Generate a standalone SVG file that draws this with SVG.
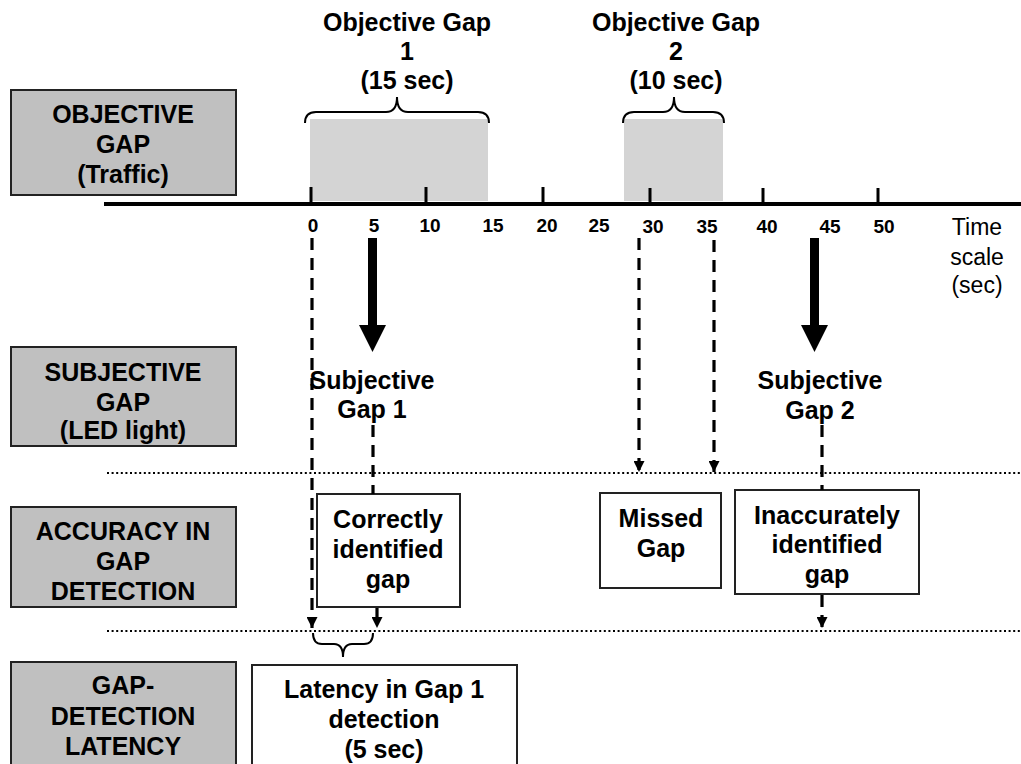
<svg xmlns="http://www.w3.org/2000/svg" width="1021" height="764" viewBox="0 0 1021 764">
<style>
  text { font-family: "Liberation Sans", Arial, sans-serif; fill: #000; text-anchor: middle; }
  .b { font-weight: bold; font-size: 25px; }
  .t { font-weight: bold; font-size: 19px; }
  .r { font-size: 23px; }
  .cat { fill: #c0c0c0; stroke: #222; stroke-width: 2; }
  .box { fill: #fff; stroke: #222; stroke-width: 2; }
  .gap { fill: #d4d4d4; }
  .dash { stroke: #000; stroke-width: 3.2; stroke-dasharray: 12 8; fill: none; }
  .dot { stroke: #000; stroke-width: 2.2; stroke-dasharray: 2 2.6; fill: none; }
  .brace { stroke: #000; stroke-width: 2; fill: none; }
  .tick { stroke: #000; stroke-width: 3; }
</style>
<defs>
  <marker id="ah" markerWidth="11" markerHeight="11" refX="11" refY="5.5" orient="auto" markerUnits="userSpaceOnUse" viewBox="0 0 11 11">
    <path d="M0,0 L11,5.5 L0,11 Z" fill="#000"/>
  </marker>
</defs>
<rect width="1021" height="764" fill="#fff"/>

<g id="timeline">
  <rect class="gap" x="310" y="119" width="178" height="82"/>
  <rect class="gap" x="624" y="119" width="99" height="82"/>
  <path class="brace" d="M305,123 Q305,112 316,112 L386,112 Q397,112 397,97 Q397,112 408,112 L478,112 Q489,112 489,123"/>
  <path class="brace" d="M623,123 Q623,112 634,112 L663,112 Q674,112 674,97 Q674,112 685,112 L713,112 Q724,112 724,123"/>
  <line x1="104" y1="204" x2="1021" y2="204" stroke="#000" stroke-width="4"/>
  <line class="tick" x1="311" y1="187" x2="311" y2="204"/>
  <line class="tick" x1="426" y1="187" x2="426" y2="204"/>
  <line class="tick" x1="543" y1="187" x2="543" y2="204"/>
  <line class="tick" x1="650" y1="188" x2="650" y2="204"/>
  <line class="tick" x1="763" y1="188" x2="763" y2="204"/>
  <line class="tick" x1="878" y1="188" x2="878" y2="204"/>
  <text class="t" x="313" y="232">0</text>
  <text class="t" x="374" y="232">5</text>
  <text class="t" x="430" y="232">10</text>
  <text class="t" x="493" y="232">15</text>
  <text class="t" x="547" y="232">20</text>
  <text class="t" x="599" y="232">25</text>
  <text class="t" x="653" y="233">30</text>
  <text class="t" x="707" y="233">35</text>
  <text class="t" x="767" y="233">40</text>
  <text class="t" x="830" y="233">45</text>
  <text class="t" x="884" y="233">50</text>
  <text class="r" x="977" y="235">Time</text>
  <text class="r" x="977" y="265">scale</text>
  <text class="r" x="977" y="293">(sec)</text>
</g>

<g id="title1">
  <text class="b" x="407" y="31">Objective Gap</text>
  <text class="b" x="407" y="60">1</text>
  <text class="b" x="407" y="89">(15 sec)</text>
</g>
<g id="title2">
  <text class="b" x="676" y="31">Objective Gap</text>
  <text class="b" x="676" y="60">2</text>
  <text class="b" x="676" y="89">(10 sec)</text>
</g>

<g id="cat-objective">
  <rect class="cat" x="11" y="90" width="225" height="105"/>
  <text class="b" x="123" y="123">OBJECTIVE</text>
  <text class="b" x="123" y="153">GAP</text>
  <text class="b" x="123" y="183">(Traffic)</text>
</g>
<g id="cat-subjective">
  <rect class="cat" x="11" y="347" width="225" height="99"/>
  <text class="b" x="123" y="381">SUBJECTIVE</text>
  <text class="b" x="123" y="411">GAP</text>
  <text class="b" x="123" y="439">(LED light)</text>
</g>
<g id="cat-accuracy">
  <rect class="cat" x="11" y="507" width="225" height="100"/>
  <text class="b" x="123" y="540">ACCURACY IN</text>
  <text class="b" x="123" y="570">GAP</text>
  <text class="b" x="123" y="600">DETECTION</text>
</g>
<g id="cat-latency">
  <rect class="cat" x="11" y="662" width="225" height="110"/>
  <text class="b" x="123" y="694">GAP-</text>
  <text class="b" x="123" y="725">DETECTION</text>
  <text class="b" x="123" y="755">LATENCY</text>
</g>

<g id="subjective1">
  <text class="b" x="372" y="389">Subjective</text>
  <text class="b" x="372" y="418">Gap 1</text>
</g>
<g id="subjective2">
  <text class="b" x="820" y="389">Subjective</text>
  <text class="b" x="820" y="419">Gap 2</text>
</g>

<g id="correct">
  <rect class="box" x="317" y="494" width="143" height="113"/>
  <text class="b" x="388" y="528">Correctly</text>
  <text class="b" x="388" y="558">identified</text>
  <text class="b" x="388" y="588">gap</text>
</g>
<g id="missed">
  <rect class="box" x="600" y="493" width="121" height="95"/>
  <text class="b" x="661" y="527">Missed</text>
  <text class="b" x="661" y="557">Gap</text>
</g>
<g id="inaccurate">
  <rect class="box" x="735" y="490" width="184" height="104"/>
  <text class="b" x="827" y="524">Inaccurately</text>
  <text class="b" x="827" y="553">identified</text>
  <text class="b" x="827" y="583">gap</text>
</g>
<g id="latency">
  <rect class="box" x="252" y="665" width="265" height="110"/>
  <text class="b" x="384" y="698">Latency in Gap 1</text>
  <text class="b" x="384" y="728">detection</text>
  <text class="b" x="384" y="758">(5 sec)</text>
</g>

<g id="connectors">
  <line class="dot" x1="107" y1="473" x2="1021" y2="473"/>
  <line class="dot" x1="107" y1="631" x2="1021" y2="631"/>
  <path d="M368,238 L377,238 L377,325 L386,325 L372.5,352 L359,325 L368,325 Z" fill="#000"/>
  <path d="M810,238 L819,238 L819,325 L828,325 L814.5,352 L801,325 L810,325 Z" fill="#000"/>
  <line class="dash" x1="312" y1="238" x2="312" y2="628" marker-end="url(#ah)"/>
  <line class="dash" x1="639" y1="238" x2="639" y2="472" marker-end="url(#ah)"/>
  <line class="dash" x1="714" y1="240" x2="714" y2="472" marker-end="url(#ah)"/>
  <line class="dash" x1="373" y1="425" x2="373" y2="494"/>
  <line class="dash" x1="377" y1="608" x2="377" y2="628" marker-end="url(#ah)"/>
  <line class="dash" x1="822" y1="425" x2="822" y2="490"/>
  <line class="dash" x1="822" y1="595" x2="822" y2="628" marker-end="url(#ah)"/>
  <path class="brace" d="M313,633 Q313,644 322,644 L334,644 Q343,644 343,657 Q343,644 352,644 L364,644 Q373,644 373,633"/>
</g>
</svg>
